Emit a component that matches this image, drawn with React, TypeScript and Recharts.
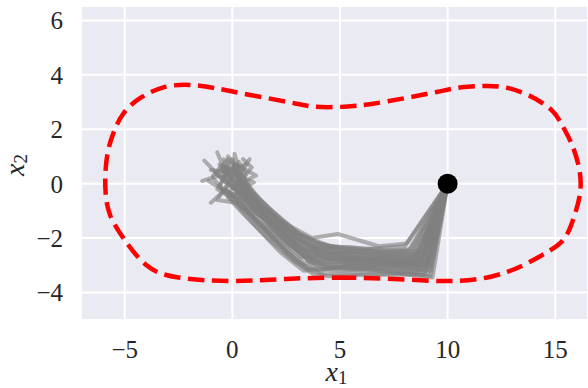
import React from "react";
import {
  CartesianGrid,
  ComposedChart,
  Line,
  Scatter,
  XAxis,
  YAxis,
} from "recharts";

// axis ticks
const xTicks = [-5, 0, 5, 10, 15];
const yTicks = [-4, -2, 0, 2, 4, 6];

// start state
const startPoint = [{ x: 10, y: 0 }];

// dashed red boundary (closed)
const boundary: [number, number][] = [
  [5, -3.45], [7.5, -3.5], [10, -3.58], [12, -3.42], [13.5, -3.0],
  [14.66, -2.5], [15.44, -2.0], [15.9, -1.15], [16.16, -0.29], [16.1, 0.6],
  [15.75, 1.48], [15.36, 2.09], [14.82, 2.71], [13.73, 3.26], [12.65, 3.54],
  [11.72, 3.59], [10.64, 3.54], [9.55, 3.38], [8.0, 3.14], [6.46, 2.93],
  [5.2, 2.83], [3.83, 2.83], [2.6, 3.0], [0.82, 3.26], [-0.72, 3.5],
  [-1.96, 3.63], [-3.2, 3.54], [-4.29, 3.14], [-5.06, 2.58], [-5.53, 1.85],
  [-5.8, 1.1], [-5.9, 0.3], [-5.88, -0.4], [-5.68, -1.15], [-5.06, -2.0],
  [-4.0, -2.99], [-2.5, -3.45], [0, -3.58], [2.5, -3.5], [5, -3.45],
];

// gray trajectories
const traj01 = [[10, 0], [8.9, -3.0], [7.0, -2.9], [5.0, -2.8], [3.6, -2.6], [2.2, -1.7], [1.0, -0.8], [0.2, -0.1], [-0.3, 0.5], [0.3, 0.2]];
const traj02 = [[10, 0], [9.2, -3.4], [7.2, -3.2], [5.2, -3.1], [3.9, -3.0], [2.6, -2.2], [1.2, -1.1], [0.3, -0.3], [-0.6, 0.3], [-1.4, 0.1]];
const traj03 = [[10, 0], [8.1, -2.2], [6.8, -2.3], [4.9, -1.85], [3.7, -2.0], [2.2, -1.35], [0.7, -0.4], [0.1, 0.4], [0.1, 1.1], [0.4, 0.3]];
const traj04 = [[10, 0], [8.6, -2.6], [7.0, -2.6], [5.0, -2.5], [3.5, -2.3], [2.0, -1.4], [0.8, -0.6], [-0.2, 0.2], [-0.7, 1.15], [-0.3, 0.4]];
const traj05 = [[10, 0], [9.0, -3.2], [7.5, -3.1], [5.5, -3.0], [4.0, -3.2], [3.0, -2.9], [1.6, -1.8], [0.5, -0.8], [-0.3, -0.2], [-1.0, -0.7]];
const traj06 = [[10, 0], [8.4, -2.5], [6.9, -2.7], [5.3, -2.7], [3.8, -2.8], [2.5, -1.9], [1.3, -1.0], [0.4, -0.2], [1.0, 0.05], [0.2, 0.3]];
const traj07 = [[10, 0], [8.8, -2.8], [7.3, -2.8], [5.8, -2.6], [4.2, -2.4], [2.8, -2.0], [1.5, -1.2], [0.6, -0.5], [-0.4, 0.1], [-1.3, 0.85]];
const traj08 = [[10, 0], [9.1, -3.3], [7.6, -3.3], [4.4, -3.4], [3.4, -3.1], [2.3, -2.3], [1.0, -1.3], [0.2, -0.4], [0.6, 0.3], [-0.2, 0.6]];
const traj09 = [[10, 0], [8.3, -2.4], [7.0, -2.5], [5.0, -2.35], [3.3, -2.1], [1.9, -1.2], [0.9, -0.5], [0.0, 0.3], [-0.4, 0.9], [0.2, 0.6]];
const traj10 = [[10, 0], [8.7, -2.9], [6.5, -3.0], [4.8, -2.9], [3.5, -2.8], [2.4, -2.0], [1.1, -0.9], [0.3, 0.0], [0.9, 0.6], [0.5, 0.9]];
const traj11 = [[10, 0], [9.3, -3.45], [7.8, -3.3], [6.0, -3.1], [4.3, -3.0], [3.2, -2.6], [1.8, -1.6], [0.7, -0.7], [0.0, -0.1], [-0.5, 0.4]];
const traj12 = [[10, 0], [8.5, -2.7], [7.2, -2.75], [5.4, -2.8], [3.9, -2.5], [2.6, -1.7], [1.4, -0.9], [0.5, -0.1], [0.2, 0.7], [-0.5, 0.2]];
const traj13 = [[10, 0], [8.0, -2.3], [6.2, -2.4], [4.6, -2.3], [3.2, -1.9], [2.0, -1.1], [0.9, -0.3], [0.1, 0.5], [-0.6, 0.7], [-0.1, 0.1]];
const traj14 = [[10, 0], [9.0, -3.1], [7.4, -3.0], [5.6, -2.95], [3.7, -2.7], [2.7, -2.3], [1.3, -1.4], [0.4, -0.6], [-0.2, -0.4], [-0.9, 0.2]];
const traj15 = [[10, 0], [8.9, -2.6], [7.0, -2.65], [5.2, -2.6], [3.6, -2.4], [2.1, -1.5], [1.0, -0.6], [0.2, 0.1], [0.8, 0.9], [0.3, 0.4]];
const traj16 = [[10, 0], [9.2, -3.2], [7.0, -3.1], [5.0, -3.2], [3.5, -3.1], [2.5, -2.5], [1.4, -1.6], [0.5, -0.9], [-0.1, -0.3], [0.4, 0.2]];
const traj17 = [[10, 0], [8.6, -2.8], [7.1, -2.9], [5.3, -2.85], [4.0, -2.65], [2.9, -2.2], [1.7, -1.3], [0.6, -0.4], [-0.2, 0.4], [-1.0, 0.5]];
const traj18 = [[10, 0], [8.2, -2.45], [6.6, -2.55], [5.1, -2.45], [3.6, -2.25], [2.3, -1.5], [1.1, -0.7], [0.3, 0.2], [0.0, 0.9], [-0.4, 0.5]];
const traj19 = [[10, 0], [9.0, -3.0], [7.7, -2.95], [5.7, -2.85], [4.1, -2.9], [3.1, -2.45], [1.9, -1.5], [0.8, -0.6], [0.1, 0.0], [-0.3, 0.6]];
const traj20 = [[10, 0], [8.7, -3.05], [6.9, -3.0], [4.9, -3.0], [3.6, -2.9], [2.6, -2.1], [1.5, -1.3], [0.6, -0.6], [-0.5, -0.2], [-1.1, 0.1]];
const traj21 = [[10, 0], [8.8, -3.15], [7.3, -3.05], [5.4, -3.05], [3.3, -3.2], [2.2, -2.5], [0.9, -1.4], [0.0, -0.6], [-0.6, -0.1], [-0.2, 0.5]];
const traj22 = [[10, 0], [8.4, -2.9], [6.4, -2.8], [4.5, -2.75], [3.0, -2.3], [1.8, -1.4], [0.6, -0.9], [-0.3, -0.2], [0.3, 0.8], [0.6, 0.4]];
const traj23 = [[10, 0], [9.1, -2.95], [7.5, -2.7], [5.6, -2.5], [4.0, -2.2], [2.5, -1.6], [1.2, -0.5], [0.4, 0.3], [-0.4, 0.6], [-0.9, 0.3]];
const traj24 = [[10, 0], [8.9, -3.35], [7.0, -3.35], [5.1, -3.3], [3.8, -3.35], [2.8, -2.8], [1.5, -1.9], [0.5, -1.1], [-0.2, -0.5], [0.5, -0.2]];
const traj25 = [[10, 0], [8.5, -3.0], [6.8, -2.9], [5.0, -2.65], [3.4, -2.45], [2.3, -1.8], [1.0, -1.0], [0.1, -0.2], [-0.8, 0.4], [-0.2, 0.9]];
const traj26 = [[10, 0], [9.0, -2.8], [7.8, -2.6], [6.2, -2.45], [4.4, -2.6], [3.0, -2.1], [1.6, -1.1], [0.7, -0.2], [0.0, 0.6], [0.6, 0.7]];
const traj27 = [[10, 0], [8.3, -2.75], [6.7, -2.8], [4.7, -2.6], [3.2, -2.7], [2.0, -1.9], [0.8, -1.1], [-0.1, -0.5], [-0.7, -0.2], [-0.3, 0.3]];
const traj28 = [[10, 0], [9.2, -3.05], [7.6, -2.85], [5.5, -2.7], [3.9, -2.35], [2.4, -1.45], [1.3, -0.8], [0.6, 0.1], [1.1, 0.3], [0.4, 0.6]];
const traj29 = [[10, 0], [8.6, -3.25], [6.3, -3.2], [4.6, -3.1], [3.3, -2.9], [2.1, -2.1], [0.9, -1.2], [0.2, -0.7], [-0.7, -0.6], [-0.3, -0.1]];
const traj30 = [[10, 0], [8.8, -2.5], [7.2, -2.45], [5.7, -2.35], [4.3, -2.3], [2.9, -1.75], [1.7, -0.9], [0.8, -0.2], [0.3, 0.5], [-0.2, 1.0]];

const trajectories = [
  traj01, traj02, traj03, traj04, traj05, traj06, traj07, traj08, traj09, traj10,
  traj11, traj12, traj13, traj14, traj15, traj16, traj17, traj18, traj19, traj20,
  traj21, traj22, traj23, traj24, traj25, traj26, traj27, traj28, traj29, traj30,
];

const toPoints = (pts: number[][]) => pts.map(([x, y]) => ({ x, y }));

const FONT = "Tinos";
const TEXT = "#262626";

const fmt = (v: number) => (v < 0 ? `\u2212${-v}` : `${v}`);

const XTick = (props: any) => (
  <text x={props.x} y={props.y} dy="0.71em" textAnchor="middle" fill={TEXT} fontSize={25} fontFamily={FONT}>
    {fmt(props.payload.value)}
  </text>
);

const YTick = (props: any) => (
  <text x={props.x} y={props.y} dy="0.355em" textAnchor="end" fill={TEXT} fontSize={25} fontFamily={FONT}>
    {fmt(props.payload.value)}
  </text>
);

const XLabel = (props: any) => {
  const { x, y, width, height } = props.viewBox;
  return (
    <text x={x + width / 2 + 2} y={y + height - 7} textAnchor="middle" fontSize={28} fill={TEXT} fontFamily={FONT}>
      <tspan fontStyle="italic">x</tspan>
      <tspan fontSize={19} dy={3}>1</tspan>
    </text>
  );
};

const YLabel = (props: any) => {
  const { x, y, height } = props.viewBox;
  const cx = x + 24;
  const cy = y + height / 2 + 2;
  return (
    <text x={cx} y={cy} textAnchor="middle" fontSize={28} fill={TEXT} fontFamily={FONT} transform={`rotate(-90, ${cx}, ${cy})`}>
      <tspan fontStyle="italic">x</tspan>
      <tspan fontSize={19} dy={3}>2</tspan>
    </text>
  );
};

const Dot = (props: any) => <circle cx={props.cx} cy={props.cy} r={10} fill="#000" />;

export default function App() {
  return (
    <div style={{ position: "absolute", left: 0, top: 0 }}>
      <ComposedChart width={588} height={388} margin={{ top: 6, right: 0, bottom: 0, left: 0 }}>
        <CartesianGrid fill="#EAEAF2" stroke="#fff" strokeWidth={2} />
        <XAxis
          type="number"
          dataKey="x"
          domain={[-7.03, 16.52]}
          ticks={xTicks}
          allowDataOverflow
          axisLine={false}
          tickLine={false}
          tickSize={0}
          tickMargin={20}
          height={68}
          tick={<XTick />}
          label={<XLabel />}
        />
        <YAxis
          type="number"
          dataKey="y"
          domain={[-5.01, 6.53]}
          ticks={yTicks}
          allowDataOverflow
          axisLine={false}
          tickLine={false}
          tickSize={0}
          tickMargin={18}
          width={81}
          tick={<YTick />}
          label={<YLabel />}
        />
        {trajectories.map((t, i) => (
          <Line
            key={`t${i}`}
            data={toPoints(t)}
            dataKey="y"
            type="linear"
            stroke="#808080"
            strokeOpacity={0.6}
            strokeWidth={4}
            strokeLinejoin="round"
            strokeLinecap="round"
            dot={false}
            activeDot={false}
            isAnimationActive={false}
          />
        ))}
        <Line
          data={toPoints(boundary)}
          dataKey="y"
          type="natural"
          stroke="#FF0000"
          strokeWidth={4.5}
          strokeDasharray="16.5 7.5"
          dot={false}
          activeDot={false}
          isAnimationActive={false}
        />
        <Scatter data={startPoint} dataKey="y" fill="#000" shape={<Dot />} isAnimationActive={false} />
      </ComposedChart>
    </div>
  );
}
